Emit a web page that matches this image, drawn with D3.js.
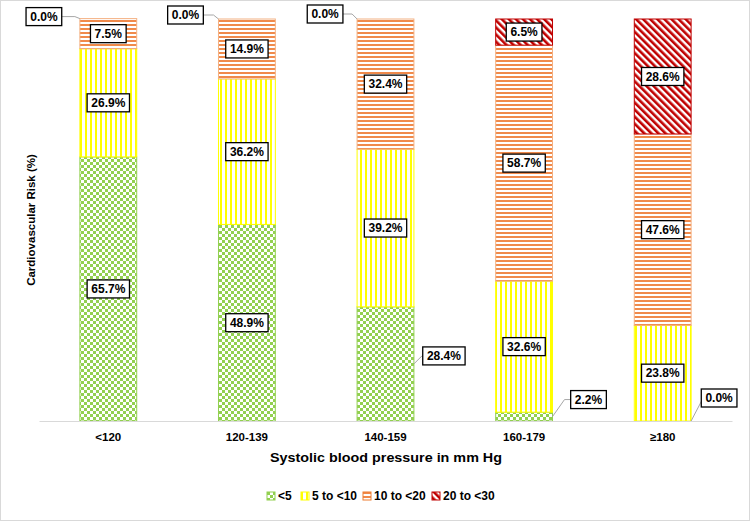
<!DOCTYPE html>
<html>
<head>
<meta charset="utf-8">
<script src="https://cdn.jsdelivr.net/npm/d3@7"></script>
<style>
  body { margin: 0; background: #fff; }
  svg text { font-family: "Liberation Sans", Arial, sans-serif; }
</style>
</head>
<body>
<svg class="graphic" width="750" height="521"></svg>
<script>
// data
const categories = ['<120', '120-139', '140-159', '160-179', '\u2265180'];
const seriesNames = ['<5', '5 to <10', '10 to <20', '20 to <30'];
const lt5 = [65.7, 48.9, 28.4, 2.2, 0.0];
const from5to10 = [26.9, 36.2, 39.2, 32.6, 23.8];
const from10to20 = [7.5, 14.9, 32.4, 58.7, 47.6];
const from20to30 = [0.0, 0.0, 0.0, 6.5, 28.6];
const yTicks = [0, 100];

// labels pulled out of the bar with a leader line: [category, series, dx, dy]
const callouts = [
  [0, 3, -32, -2], [1, 3, -29, -4], [2, 3, -28, -5],
  [2, 0, 26, -8], [3, 0, 32, -17], [4, 0, 24, -23]
];
// which zero segments still get a label
const zeroLabelled = ['0-3', '1-3', '2-3', '4-0'];

const W = 750, H = 521;
const MARGIN = { top: 19, bottom: 100, left: 39, right: 18 };

const $svg = d3.select('.graphic');

const colors = ['#92D050', '#FFFF00', '#ED7D31', '#C00000'];

const table = categories.map((c, i) => ({
  cat: c,
  '<5': lt5[i], '5 to <10': from5to10[i], '10 to <20': from10to20[i], '20 to <30': from20to30[i]
}));
const stacked = d3.stack().keys(seriesNames)(table);

const x = d3.scaleBand()
  .domain(categories)
  .range([MARGIN.left, W - MARGIN.right])
  .paddingInner(0.59)
  .paddingOuter(0.295);

const y = d3.scaleLinear()
  .domain(d3.extent(yTicks))
  .range([H - MARGIN.bottom, MARGIN.top]);

// patterns
const defs = $svg.append('defs');

const pGreen = defs.append('pattern').attr('id', 'p0').attr('patternUnits', 'userSpaceOnUse')
  .attr('width', 6).attr('height', 6);
pGreen.append('rect').attr('width', 6).attr('height', 6).attr('fill', '#fff');
pGreen.append('rect').attr('width', 3).attr('height', 3).attr('fill', colors[0]);
pGreen.append('rect').attr('x', 3).attr('y', 3).attr('width', 3).attr('height', 3).attr('fill', colors[0]);

const pYellow = defs.append('pattern').attr('id', 'p1').attr('patternUnits', 'userSpaceOnUse')
  .attr('width', 5).attr('height', 5);
pYellow.append('rect').attr('width', 5).attr('height', 5).attr('fill', '#fff');
pYellow.append('rect').attr('width', 2).attr('height', 5).attr('fill', colors[1]);

const pOrange = defs.append('pattern').attr('id', 'p2').attr('patternUnits', 'userSpaceOnUse')
  .attr('width', 4).attr('height', 4);
pOrange.append('rect').attr('width', 4).attr('height', 4).attr('fill', '#fff');
pOrange.append('rect').attr('width', 4).attr('height', 2).attr('fill', '#F08A4B');

const pRed = defs.append('pattern').attr('id', 'p3').attr('patternUnits', 'userSpaceOnUse')
  .attr('width', 5).attr('height', 5).attr('patternTransform', 'rotate(-45)');
pRed.append('rect').attr('width', 5).attr('height', 5).attr('fill', '#fff');
pRed.append('rect').attr('width', 2.6).attr('height', 5).attr('fill', colors[3]);

// outer frame
$svg.append('rect')
  .attr('x', 0.5).attr('y', 0.5).attr('width', W - 1).attr('height', H - 1)
  .attr('fill', 'none').attr('stroke', '#d9d9d9');

// bars
const layers = $svg.append('g').selectAll('g')
  .data(stacked)
  .join('g');

layers.selectAll('rect')
  .data(d => d.map(v => ({ v: v, key: d.key, idx: d.index })))
  .join('rect')
  .attr('x', d => x(d.v.data.cat))
  .attr('width', x.bandwidth())
  .attr('y', d => y(d.v[1]))
  .attr('height', d => y(d.v[0]) - y(d.v[1]))
  .attr('fill', d => `url(#p${d.idx})`)
  .attr('stroke', d => d.idx === 2 ? '#F4B183' : colors[d.idx])
  .attr('stroke-width', d => (y(d.v[0]) - y(d.v[1])) > 0 ? 1 : 0);

// baseline
$svg.append('g')
  .attr('transform', `translate(0,${y(0)})`)
  .call(d3.axisBottom(x).tickSize(0).tickPadding(12))
  .call(g => g.select('.domain').attr('stroke', '#d9d9d9'))
  .call(g => g.selectAll('.tick text')
    .attr('font-size', 11.5).attr('font-weight', 'bold').attr('fill', '#000'));

// data labels
const labelG = $svg.append('g');

function drawLabel(cx, cy, text) {
  const t = labelG.append('text')
    .attr('x', cx).attr('y', cy).attr('dy', '0.36em')
    .attr('text-anchor', 'middle')
    .attr('font-size', 12).attr('font-weight', 'bold')
    .text(text);
  const bb = t.node().getBBox();
  labelG.insert('rect', 'text')
    .attr('x', cx - bb.width / 2 - 4).attr('y', cy - 9)
    .attr('width', bb.width + 8).attr('height', 18)
    .attr('fill', '#fff').attr('stroke', '#000').attr('stroke-width', 1.3);
  return bb.width + 8;
}

stacked.forEach((layer, si) => {
  layer.forEach((v, ci) => {
    const val = v[1] - v[0];
    if (val === 0 && !zeroLabelled.includes(`${ci}-${si}`)) return;
    const txt = d3.format('.1f')(val) + '%';
    const co = callouts.find(c => c[0] === ci && c[1] === si);
    const midY = (y(v[0]) + y(v[1])) / 2;
    if (!co) {
      drawLabel(x(v.data.cat) + x.bandwidth() / 2, midY, txt);
      return;
    }
    let ax, ay;
    if (co[2] < 0) { ax = x(v.data.cat); ay = y(v[1]); }
    else { ax = x(v.data.cat) + x.bandwidth(); ay = val === 0 ? y(v[1]) : midY; }
    const bx = ax + co[2] + (co[2] < 0 ? -4 : 4);
    const by = ay + co[3];
    const w = drawLabel(bx, by, txt);
    const edge = co[2] < 0 ? bx + w / 2 : bx - w / 2;
    const kneeX = co[2] < 0 ? ax - 5 : ax + Math.min(Math.abs(co[3]), 12);
    labelG.insert('polyline', ':first-child')
      .attr('points', `${ax},${ay} ${kneeX},${by} ${edge},${by}`)
      .attr('fill', 'none').attr('stroke', '#a6a6a6').attr('stroke-width', 1);
  });
});

// axis titles
$svg.append('text')
  .attr('x', 386).attr('y', 462)
  .attr('text-anchor', 'middle').attr('font-size', 12.5).attr('font-weight', 'bold')
  .attr('textLength', 232).attr('lengthAdjust', 'spacingAndGlyphs')
  .text('Systolic blood pressure in mm Hg');

$svg.append('text')
  .attr('transform', `translate(35,${(y(0) + y(100)) / 2}) rotate(-90)`)
  .attr('text-anchor', 'middle').attr('font-size', 11.5).attr('font-weight', 'bold')
  .text('Cardiovascular Risk (%)');

// legend
const legendX = [267, 301, 363, 432];
const legend = $svg.append('g').selectAll('g')
  .data(seriesNames)
  .join('g')
  .attr('transform', (d, i) => `translate(${legendX[i]},492)`);

legend.append('rect')
  .attr('width', 8).attr('height', 8)
  .attr('fill', (d, i) => `url(#p${i})`)
  .attr('stroke', (d, i) => colors[i]);

legend.append('text')
  .attr('x', 11).attr('y', 4).attr('dy', '0.35em')
  .attr('font-size', 12).attr('font-weight', 'bold')
  .text(d => d);
</script>
</body>
</html>
